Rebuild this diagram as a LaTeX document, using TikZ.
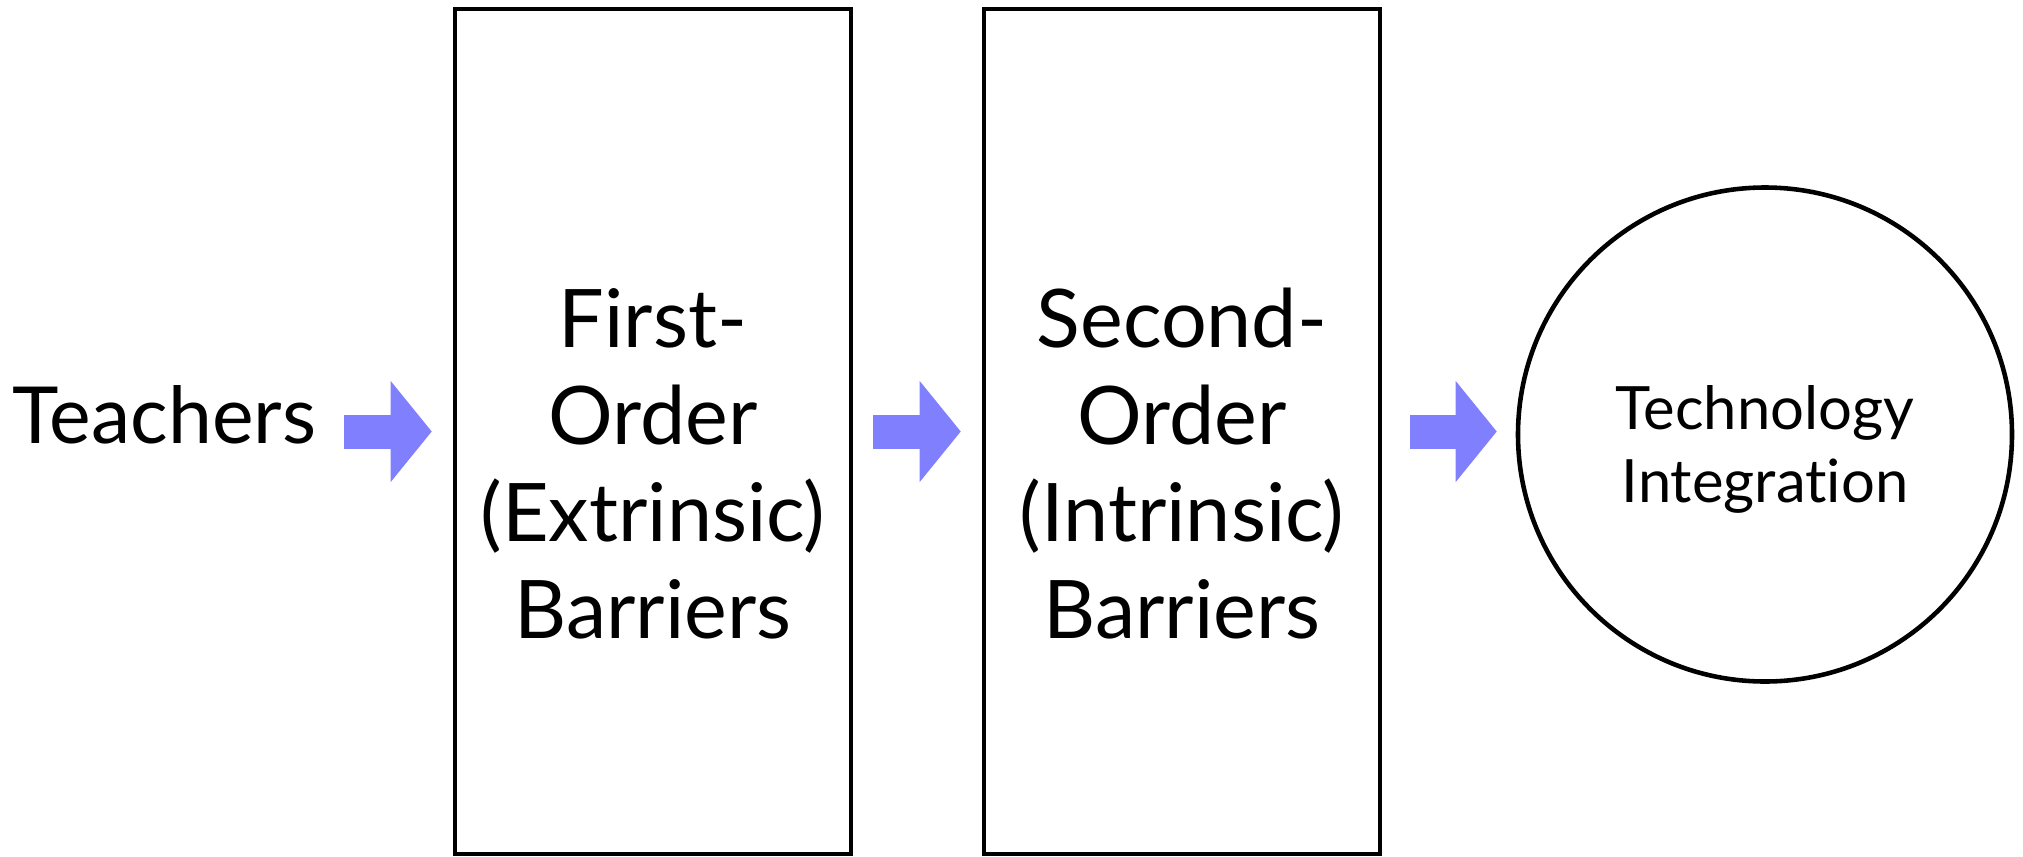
\documentclass[tikz,border=0pt]{standalone}
\usepackage{fontspec}
\setmainfont{Lato}[Ligatures=NoCommon]
\usetikzlibrary{arrows.meta,positioning}
\definecolor{arrowblue}{RGB}{128,128,255}

\tikzset{
  barrier/.style={draw, line width=1.3pt, minimum width=3.96cm, minimum height=8.45cm},
  bigtext/.style={inner sep=0pt, align=center, font={\fontsize{23}{27.6}\selectfont}},
  blockarrow/.style={arrowblue, line width=0.34cm, -{Triangle[length=0.41cm,width=1.01cm,line width=0pt]}}
}

\begin{document}
\begin{tikzpicture}
		\useasboundingbox (0,0) rectangle (20.23,8.56);
		\node[bigtext, anchor=base, font={\fontsize{22.4}{27}\selectfont}] (teach) at (1.645, 4.13) {Teachers};
		\node[barrier] (box1) at (6.53, 4.245) {};
		\node[barrier] (box2) at (11.82, 4.245) {};
		\node[bigtext] (first) at (6.53, 3.92) {First-\\Order\\(Extrinsic)\\Barriers};
		\node[bigtext] (second) at (11.82, 3.92) {Second-\\Order\\(Intrinsic)\\Barriers};
		\node[circle, draw, line width=1.3pt, minimum size=4.94cm] (integ) at (17.65, 4.215) {};
		\node[align=center, inner sep=0pt, font={\fontsize{17}{21}\selectfont}] (integtext) at ([yshift=-0.15cm]integ.center) {Technology\\Integration};

		\draw[blockarrow, shorten <=0.27cm, shorten >=0.21cm] (box1.west -| teach.east) -- (box1.west);
		\draw[blockarrow, shorten <=0.20cm, shorten >=0.21cm] (box1.east) -- (box2.west);
		\draw[blockarrow, shorten <=0.28cm, shorten >=0.19cm] (box2.east) -- (box2.east -| integ.west);
\end{tikzpicture}
\end{document}
